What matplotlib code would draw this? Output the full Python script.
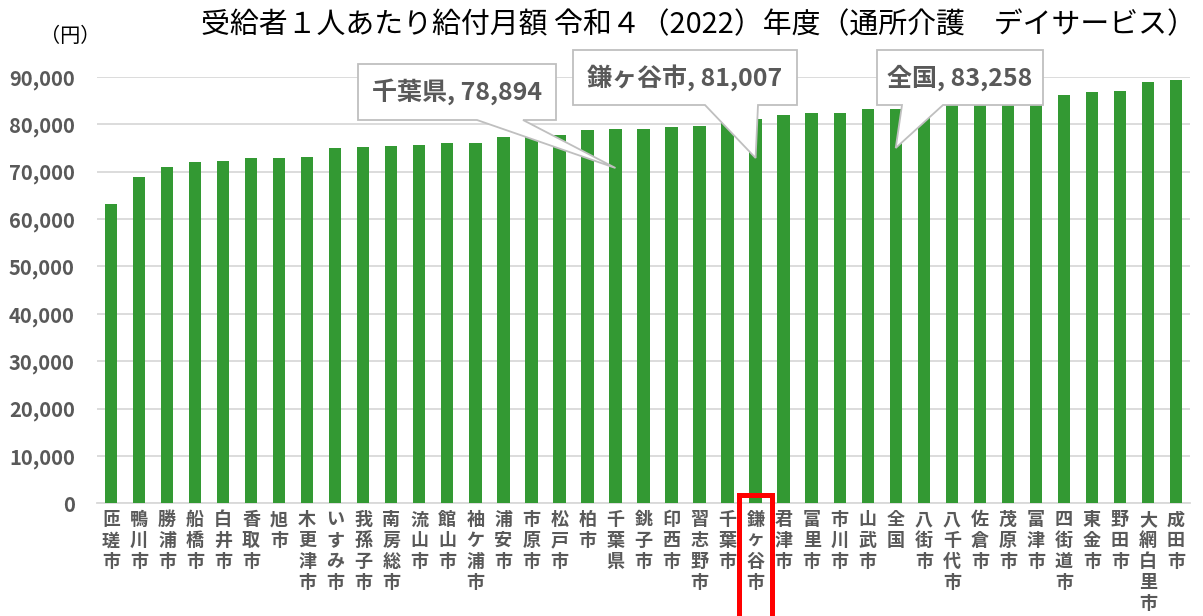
import matplotlib
matplotlib.use('Agg')
import matplotlib.pyplot as plt
from matplotlib.patches import Polygon, Rectangle
from matplotlib.transforms import blended_transform_factory
from matplotlib.ticker import FuncFormatter

plt.rcParams['font.family'] = ['Noto Sans CJK JP', 'DejaVu Sans']

# 受給者1人あたり給付月額（円）昇順
cities = ['匝瑳市', '鴨川市', '勝浦市', '船橋市', '白井市', '香取市', '旭市', '木更津市',
          'いすみ市', '我孫子市', '南房総市', '流山市', '館山市', '袖ケ浦市', '浦安市', '市原市',
          '松戸市', '柏市', '千葉県', '銚子市', '印西市', '習志野市', '千葉市', '鎌ヶ谷市',
          '君津市', '富里市', '市川市', '山武市', '全国', '八街市', '八千代市', '佐倉市',
          '茂原市', '富津市', '四街道市', '東金市', '野田市', '大網白里市', '成田市']
amounts = [63130, 68830, 70870, 71990, 72140, 72770, 72920, 72990,
           74880, 75090, 75300, 75660, 76000, 76090, 77210, 77600,
           77770, 78820, 78894, 79040, 79460, 79520, 80200, 81007,
           81850, 82270, 82410, 83110, 83258, 84000, 84400, 84800,
           85200, 85600, 86070, 86770, 86910, 88810, 89230]
yticks = list(range(0, 90001, 10000))

W, H = 1203, 616
GREEN = '#339933'
GRAY_TXT = '#595959'

fig = plt.figure(figsize=(W / 100, H / 100), dpi=100)
ax = fig.add_axes([97 / W, 1 - 503.4 / H, (1190 - 97) / W, (503.4 - 76.8) / H])

x = list(range(len(cities)))
ax.bar(x, amounts, width=0.44, color=GREEN, zorder=3)

ax.set_xlim(-0.5, len(cities) - 0.5)
ax.set_ylim(0, 90000)
ax.set_yticks(yticks)
ax.yaxis.set_major_formatter(FuncFormatter(lambda v, p: f'{int(v):,}'))
ax.grid(axis='y', color='#d9d9d9', lw=1.3, zorder=0)
for s in ['top', 'right', 'left']:
    ax.spines[s].set_visible(False)
ax.spines['bottom'].set_color('#d9d9d9')
ax.spines['bottom'].set_linewidth(1.3)
ax.tick_params(axis='y', length=0, pad=16, labelsize=14.5, labelcolor=GRAY_TXT)
ax.tick_params(axis='x', length=0, pad=5, labelsize=13, labelcolor=GRAY_TXT)
ax.set_xticks(x)
ax.set_xticklabels(['\n'.join(c) for c in cities], linespacing=1.12, fontweight='bold', va='top')
for t in ax.get_yticklabels():
    t.set_fontweight('bold')

# 鎌ヶ谷市を赤枠で囲む
k = cities.index('鎌ヶ谷市')
trans = blended_transform_factory(ax.transData, ax.transAxes)
ax.add_patch(Rectangle((k - 0.6, -0.29), 1.2, 0.31, transform=trans, fill=False,
                       ec='#ff0000', lw=3.6, clip_on=False, zorder=10))

fig.text(70 / W, 1 - 37 / H, '（円）', ha='center', va='center', fontsize=14.5)
fig.text(698 / W, 1 - 25 / H, '受給者１人あたり給付月額 令和４（2022）年度（通所介護　デイサービス）',
         ha='center', va='center', fontsize=20.8)


def px(p):
    return (p[0] / W, 1 - p[1] / H)


def callout(name, box, base, tip_y):
    i = cities.index(name)
    tip_x = ax.transData.transform((i, 0))[0]
    l, t, r, b = box
    pts = [(l, t), (r, t), (r, b), (base[1], b), (tip_x, tip_y), (base[0], b), (l, b)]
    fig.add_artist(Polygon([px(p) for p in pts], closed=True, transform=fig.transFigure,
                           fc='white', ec='#bfbfbf', lw=1.3, zorder=5))
    fig.text((l + r) / 2 / W, 1 - (t + b) / 2 / H, f'{name}, {amounts[i]:,}',
             ha='center', va='center', fontsize=18, fontweight='bold', color=GRAY_TXT, zorder=6)


callout('千葉県', (358, 64, 556, 120), (477, 523), 168)
callout('鎌ヶ谷市', (573, 50, 797, 105), (705, 758), 158)
callout('全国', (877, 50, 1043, 105), (902, 943), 148)

fig.savefig('out.png', dpi=100)
